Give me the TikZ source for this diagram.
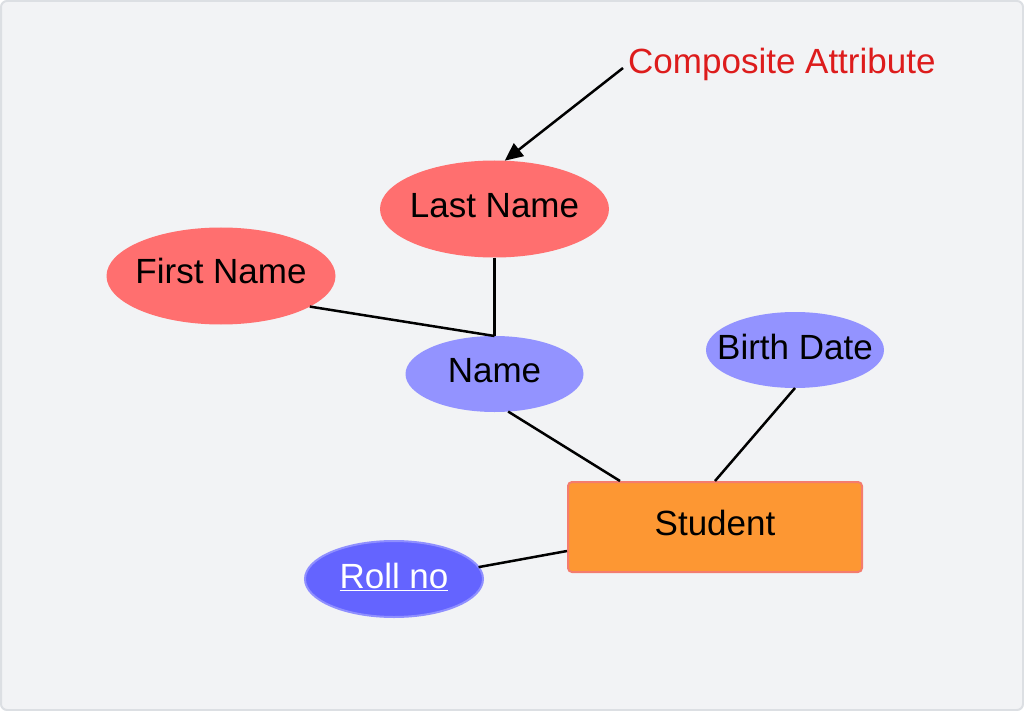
\documentclass[tikz,border=0pt]{standalone}
\usepackage{fontspec}
\setmainfont{Liberation Sans}
\usetikzlibrary{shapes.geometric,arrows.meta,calc}
\definecolor{bg}{HTML}{F2F3F5}
\definecolor{frame}{HTML}{DCDFE3}
\definecolor{redattr}{HTML}{FF6F6F}
\definecolor{blueattr}{HTML}{9393FF}
\definecolor{keyfill}{HTML}{6464FF}
\definecolor{keydraw}{HTML}{8F8FFF}
\definecolor{entfill}{HTML}{FD9733}
\definecolor{entdraw}{HTML}{F47C6E}
\definecolor{labelred}{HTML}{DD1C1C}
\tikzset{
  bigfont/.style={font=\fontsize{35}{42}\selectfont},
  attr/.style={ellipse, inner sep=0pt, outer sep=0pt},
  compattr/.style={attr, fill=redattr, minimum width=229pt, minimum height=97pt},
  simpleattr/.style={attr, fill=blueattr, minimum width=178pt, minimum height=76pt},
  keyattr/.style={attr, fill=keyfill, draw=keydraw, line width=2pt, minimum width=178pt, minimum height=76pt},
  inlabel/.style={bigfont, text=black, inner sep=0pt, yshift=3pt},
  entity/.style={rectangle, rounded corners=4pt, fill=entfill, draw=entdraw, line width=2pt, minimum width=294pt, minimum height=90pt, inner sep=0pt},
  link/.style={line width=2.5pt, black},
}
\begin{document}
\begin{tikzpicture}[x=1pt,y=-1pt]
\useasboundingbox (0,0) rectangle (1024,711);
\draw[fill=bg, draw=frame, line width=2pt, rounded corners=6pt] (1,1) rectangle (1023,710);

\node[compattr, label={[inlabel]center:Last Name}] (ln) at (494.5,209) {};
\node[compattr, label={[inlabel, yshift=2pt]center:First Name}] (fn) at (221,276) {};
\node[simpleattr, label={[inlabel]center:Name}] (nm) at (494.5,374) {};
\node[simpleattr, label={[inlabel]center:Birth Date}] (bd) at (795,350) {};
\node[keyattr, label={[inlabel, text=white, yshift=-1pt]center:\underline{Roll no}}] (rn) at (394,579) {};
\node[entity, label={[inlabel, yshift=1pt]center:Student}] (st) at (715,527) {};
\node[bigfont, text=labelred, anchor=west, inner sep=0pt] (ca) at (628,64) {Composite Attribute};

\draw[link] (ln.south) -- (nm.north);
\draw[link] (fn.-19) -- (nm.north);
\draw[link] (nm.-70) -- ([xshift=-95pt]st.north);
\draw[link] (bd.south) -- (st.north);
\draw[link] (rn.8) -- ([yshift=-24pt]st.west);
\draw[link, -{Triangle[length=18pt,width=16pt]}] ([yshift=-4pt,xshift=-5pt]ca.west) -- (ln.78);
\end{tikzpicture}
\end{document}
